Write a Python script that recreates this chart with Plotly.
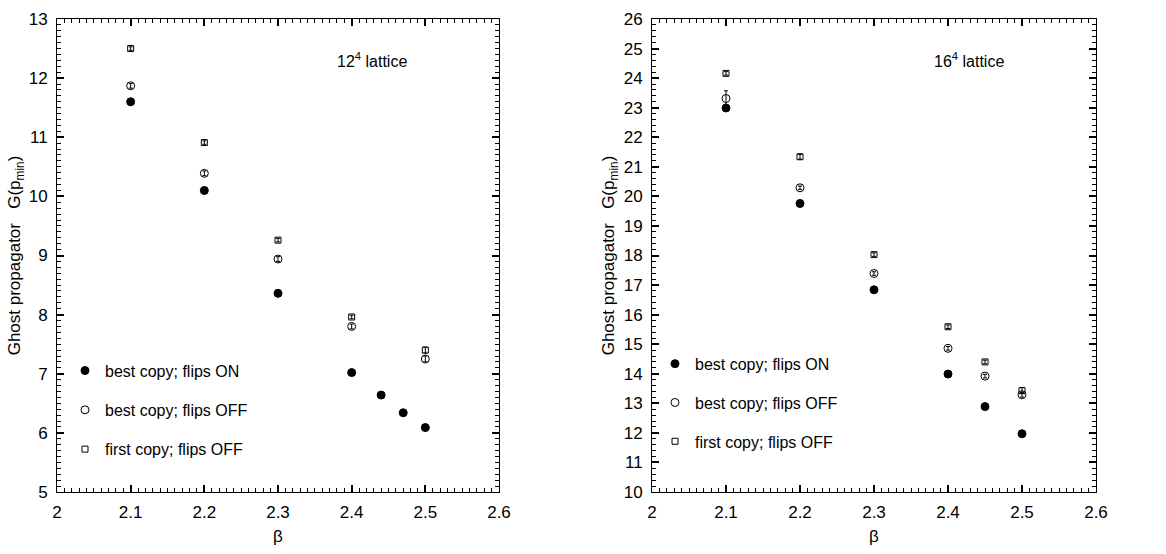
import plotly.graph_objects as go
from plotly.subplots import make_subplots

# ---- data: 12^4 lattice ----
beta12_on = [2.10, 2.20, 2.30, 2.40, 2.44, 2.47, 2.50]
g12_on = [11.60, 10.10, 8.36, 7.02, 6.64, 6.34, 6.09]
err12_on = [0.03, 0.03, 0.03, 0.03, 0.03, 0.03, 0.03]

beta12_off = [2.10, 2.20, 2.30, 2.40, 2.50]
g12_off = [11.87, 10.39, 8.94, 7.80, 7.25]
err12_off = [0.04, 0.04, 0.04, 0.04, 0.05]

beta12_first = [2.10, 2.20, 2.30, 2.40, 2.50]
g12_first = [12.50, 10.91, 9.26, 7.96, 7.40]
err12_first = [0.03, 0.03, 0.03, 0.03, 0.05]

# ---- data: 16^4 lattice ----
beta16_on = [2.10, 2.20, 2.30, 2.40, 2.45, 2.50]
g16_on = [22.99, 19.76, 16.84, 13.99, 12.89, 11.97]
err16_on = [0.06, 0.06, 0.06, 0.06, 0.06, 0.06]

beta16_off = [2.10, 2.20, 2.30, 2.40, 2.45, 2.50]
g16_off = [23.31, 20.29, 17.39, 14.86, 13.92, 13.29]
err16_off = [0.26, 0.06, 0.06, 0.06, 0.06, 0.08]

beta16_first = [2.10, 2.20, 2.30, 2.40, 2.45, 2.50]
g16_first = [24.16, 21.34, 18.03, 15.59, 14.40, 13.43]
err16_first = [0.06, 0.08, 0.06, 0.06, 0.06, 0.10]

names = ["best copy; flips ON", "best copy; flips OFF", "first copy; flips OFF"]

FONT = "Liberation Sans, Arial, Helvetica, sans-serif"
FS = 17
FS_LEG = 16

fig = make_subplots(rows=1, cols=2, horizontal_spacing=0.1)

styles = [
    dict(symbol="circle", size=8, color="black", line=dict(color="black", width=1)),
    dict(symbol="circle-open", size=8, color="black", line=dict(color="black", width=1)),
    dict(symbol="square-open", size=6, color="black", line=dict(color="black", width=1)),
]

sets = [
    (1, "legend", [(beta12_on, g12_on, err12_on), (beta12_off, g12_off, err12_off),
                   (beta12_first, g12_first, err12_first)]),
    (2, "legend2", [(beta16_on, g16_on, err16_on), (beta16_off, g16_off, err16_off),
                    (beta16_first, g16_first, err16_first)]),
]

for col, leg, series in sets:
    for i, (xs, ys, es) in enumerate(series):
        fig.add_trace(
            go.Scatter(
                x=xs, y=ys, mode="markers", name=names[i],
                marker=styles[i],
                error_y=dict(type="data", array=es, visible=True, color="black",
                             thickness=1, width=2),
                legend=leg, legendgroup=f"{leg}_{i}", showlegend=True,
            ),
            row=1, col=col,
        )

axis_common = dict(
    showline=True, linecolor="black", linewidth=1, mirror="allticks",
    ticks="inside", ticklen=7, tickwidth=1.5, tickcolor="black",
    showgrid=False, zeroline=False,
    tickfont=dict(family=FONT, size=FS, color="black"),
    ticklabelstandoff=5,
)
minor_common = dict(ticks="inside", ticklen=4, tickwidth=1, tickcolor="black", showgrid=False)

for col in (1, 2):
    fig.update_xaxes(
        range=[2.0, 2.6], dtick=0.1,
        minor=dict(dtick=0.01, **minor_common),
        title=dict(text="β", font=dict(family=FONT, size=FS, color="black"), standoff=8),
        row=1, col=col, **axis_common,
    )

fig.update_yaxes(
    range=[5, 13], dtick=1,
    minor=dict(dtick=0.1, **minor_common),
    title=dict(text="Ghost propagator&nbsp;&nbsp; G(p<sub>min</sub>)",
               font=dict(family=FONT, size=FS, color="black"), standoff=3),
    row=1, col=1, **axis_common,
)
fig.update_yaxes(
    range=[10, 26], dtick=1,
    minor=dict(dtick=0.2, **minor_common),
    title=dict(text="Ghost propagator&nbsp;&nbsp; G(p<sub>min</sub>)",
               font=dict(family=FONT, size=FS, color="black"), standoff=4),
    row=1, col=2, **axis_common,
)

W = 1166 - 57 - 70
fig.update_xaxes(domain=[0, (499 - 57) / W], row=1, col=1)
fig.update_xaxes(domain=[(652 - 57) / W, 1], row=1, col=2)

fig.add_annotation(x=2.378, y=12.31, xref="x", yref="y", text="12<sup>4</sup> lattice",
                   showarrow=False, xanchor="left", yanchor="middle",
                   font=dict(family=FONT, size=FS_LEG, color="black"))
fig.add_annotation(x=2.378, y=24.6, xref="x2", yref="y2", text="16<sup>4</sup> lattice",
                   showarrow=False, xanchor="left", yanchor="middle",
                   font=dict(family=FONT, size=FS_LEG, color="black"))

leg_common = dict(font=dict(family=FONT, size=FS_LEG, color="black"), bgcolor="rgba(0,0,0,0)",
                  traceorder="grouped", itemwidth=30, xanchor="left", yanchor="top")
fig.update_layout(
    legend=dict(x=(65 - 57) / W, y=(492 - 351) / 482, tracegroupgap=15.5, **leg_common),
    legend2=dict(x=(655 - 57) / W, y=(492 - 344) / 482, tracegroupgap=15, **leg_common),
    width=1166, height=554,
    margin=dict(l=57, r=70, t=10, b=62),
    paper_bgcolor="white", plot_bgcolor="white",
    font=dict(family=FONT, size=FS, color="black"),
)

fig.write_html("out.html")
